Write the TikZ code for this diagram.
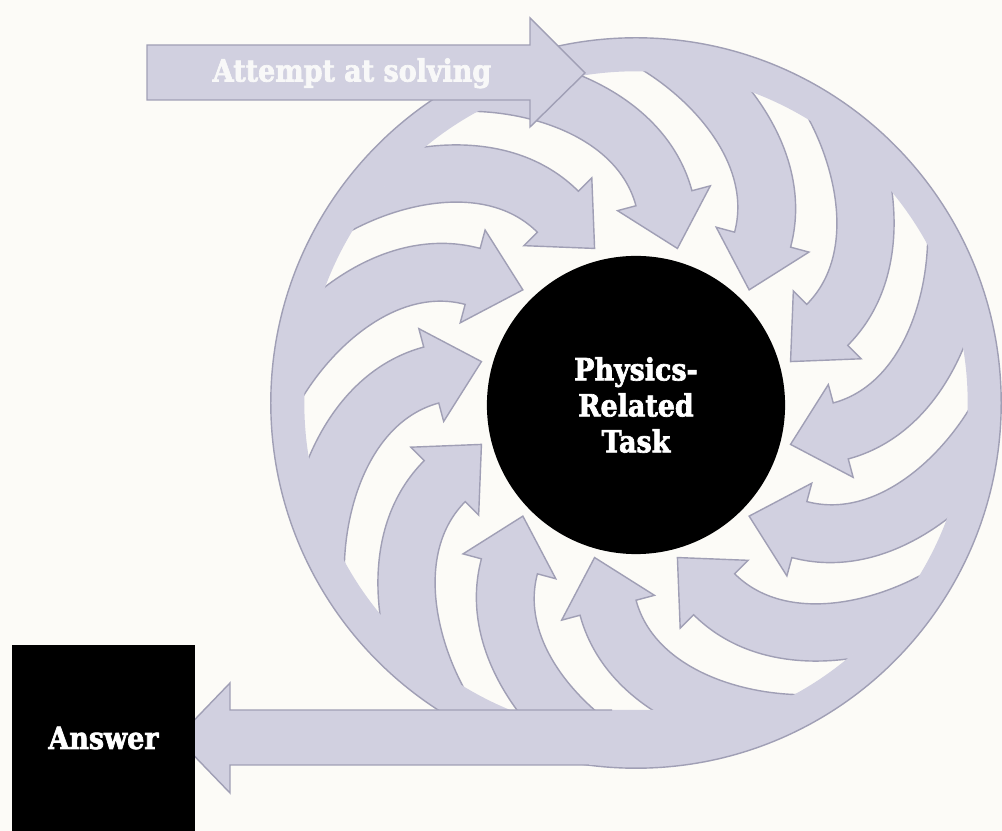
\documentclass[tikz,border=0pt]{standalone}
\usepackage{fontspec}
\newfontfamily\slab{DejaVu Serif}[FakeStretch=0.88,FakeBold=2.2]
\definecolor{bg}{HTML}{FCFBF7}
\definecolor{lav}{HTML}{D1D0E0}
\definecolor{edge}{HTML}{A09FB5}
\definecolor{softwhite}{HTML}{F8F8F8}
\tikzset{
  arrowstyle/.style={fill=lav, draw=edge, line width=0.4pt, line join=miter},
  labelfont/.style={font=\slab\bfseries\fontsize{8.7}{10.24}\selectfont}
}
\begin{document}
\begin{tikzpicture}[x=0.01cm,y=-0.01cm]
\fill[bg] (0,0) rectangle (1002,831);
\useasboundingbox (0,0) rectangle (1002,831);
\coordinate (C) at (636,403);
% swirl of curved arrows, clipped at the inner edge of the ring
\begin{scope}
  \clip (C) circle [radius=3.32cm];
  \foreach \a in {15,45,...,345}{
    \begin{scope}[shift={(C)}, rotate=\a]
      \draw[arrowstyle] (-247.9,-295.5) .. controls (-157.7,-318.0) and (-47.4,-300.0) .. (-0.9,-219.5)
        -- (15.6,-229) -- (0,-160) -- (-67.6,-181) -- (-51.1,-190.5)
        .. controls (-84.6,-248.5) and (-168.9,-255.5) .. (-233.9,-239.3) -- cycle;
    \end{scope}
  }
\end{scope}
% outer ring
\fill[lav, even odd rule] (C) circle [radius=3.65cm] (C) circle [radius=3.315cm];
\draw[edge, line width=0.4pt] (C) circle [radius=3.65cm];
% central task
\node[circle, fill=black, minimum size=2.98cm, inner sep=0pt, text=white, align=center, labelfont] (task) at (636,405) {Physics-\\Related\\Task};
% attempt arrow
\draw[arrowstyle] (147,45) -- (530,45) -- (530,18) -- (585,73) -- (530,127) -- (530,100) -- (147,100) -- cycle;
\node[labelfont, text=softwhite, anchor=base, inner sep=0pt] (attempt) at (352,81.5) {Attempt at solving};
% answer arrow
\fill[lav] (733,710) -- (230,710) -- (230,683) -- (177,738) -- (230,793) -- (230,765) -- (660,765) -- (700,755) -- cycle;
\draw[edge, line width=0.4pt, line join=miter] (612,710) -- (230,710) -- (230,683) -- (177,738) -- (230,793) -- (230,765) -- (589,765);
% answer box
\node[fill=black, minimum width=1.83cm, minimum height=1.86cm, inner sep=0pt, text=white, labelfont] (answer) at (103.5,738) {Answer};
\end{tikzpicture}
\end{document}
